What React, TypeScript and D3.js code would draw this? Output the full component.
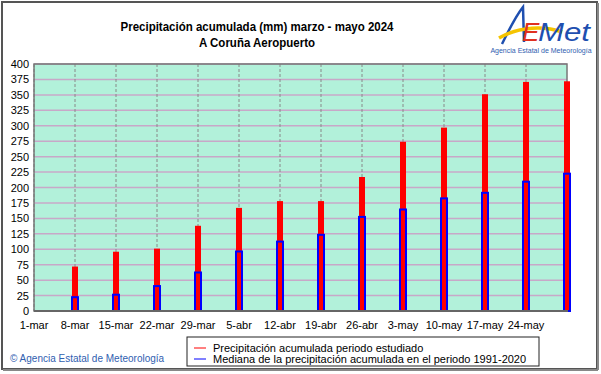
import React from 'react';
import * as d3 from 'd3';

// fechas de las barras (semanal) y valores
const barDates = ['2024-03-08','2024-03-15','2024-03-22','2024-03-29','2024-04-05','2024-04-12','2024-04-19','2024-04-26','2024-05-03','2024-05-10','2024-05-17','2024-05-24','2024-05-31'];
const precipAcum = [72, 96, 101, 138, 167, 178, 178, 217, 274, 297, 351, 371, 372];
const medianaAcum = [24, 28, 42, 64, 98, 114, 125, 154, 166, 184, 193, 211, 224];
const tickDates = ['2024-03-01','2024-03-08','2024-03-15','2024-03-22','2024-03-29','2024-04-05','2024-04-12','2024-04-19','2024-04-26','2024-05-03','2024-05-10','2024-05-17','2024-05-24'];
const tickLabels = ['1-mar','8-mar','15-mar','22-mar','29-mar','5-abr','12-abr','19-abr','26-abr','3-may','10-may','17-may','24-may'];
const yTicks = d3.range(0, 401, 25);

const font = 'Liberation Sans, Arial, sans-serif';

const App = () => {
  const w = 601, h = 374;
  const left = 34, right = 567, top = 64, bottom = 311;

  const x = d3.scaleTime()
    .domain([new Date('2024-03-01'), new Date('2024-05-31')])
    .range([left, right]);
  const y = d3.scaleLinear().domain([0, 400]).range([bottom, top]);

  const redW = 6, blueW = 8;

  return (
    <svg width={w} height={h} style={{position: 'absolute', left: 0, top: 0, background: '#fff'}} fontFamily={font}>
      {/* marco exterior */}
      <rect x={2} y={2} width={595} height={367} fill="#fff" stroke="#555" strokeWidth={2} />
      <line x1={3} y1={370} x2={598} y2={370} stroke="#888" strokeWidth={2} />
      <line x1={598} y1={3} x2={598} y2={370} stroke="#888" strokeWidth={2} />

      {/* titulo */}
      <text x={257} y={31} textAnchor="middle" fontSize={12.5} fontWeight="bold" textLength={273} lengthAdjust="spacingAndGlyphs">Precipitación acumulada (mm) marzo - mayo 2024</text>
      <text x={257} y={47} textAnchor="middle" fontSize={12.5} fontWeight="bold" textLength={116} lengthAdjust="spacingAndGlyphs">A Coruña Aeropuerto</text>

      {/* logo AEMet */}
      <g>
        <path d="M502,44 C509,30 515,17 523,7 L524,42" fill="none" stroke="#1f4fb0" strokeWidth={2.5} />
        <path d="M499,38 C520,26 545,26 562,32" fill="none" stroke="#f5c400" strokeWidth={3.5} />
        <text x={522} y={41} fontSize={26} fill="#e03020" fontStyle="italic">E</text>
        <text x={538} y={41} fontSize={26} fill="#1f4fb0" fontStyle="italic" textLength={52} lengthAdjust="spacingAndGlyphs">Met</text>
        <text x={541} y={53} fontSize={7} fill="#3060b0" textAnchor="middle">Agencia Estatal de Meteorología</text>
      </g>

      {/* area del grafico */}
      <rect x={left} y={top} width={right - left} height={bottom - top} fill="#b2f1da" />
      {yTicks.map(t => (
        <line key={'h' + t} x1={left} x2={right} y1={y(t)} y2={y(t)} stroke="#c8a8c8" strokeWidth={1.5} />
      ))}
      {tickDates.map(d => (
        <line key={'v' + d} x1={x(new Date(d))} x2={x(new Date(d))} y1={top} y2={bottom} stroke="#888" strokeDasharray="3,2" />
      ))}
      <rect x={left} y={top} width={right - left} height={bottom - top} fill="none" stroke="#777" strokeWidth={1.5} />

      {/* barras */}
      {barDates.map((d, i) => (
        <rect key={'r' + d} x={x(new Date(d)) - redW / 2} y={y(precipAcum[i])} width={redW} height={bottom - y(precipAcum[i])} fill="#ff0000" />
      ))}
      {barDates.map((d, i) => (
        <rect key={'b' + d} x={x(new Date(d)) - blueW / 2 + 1} y={y(medianaAcum[i]) + 1} width={blueW - 2} height={bottom - y(medianaAcum[i]) - 1} fill="none" stroke="#0000ff" strokeWidth={2} />
      ))}
      <line x1={left} x2={right + 1} y1={bottom} y2={bottom} stroke="#666" strokeWidth={2} />

      {/* eje y */}
      {yTicks.map(t => (
        <text key={'yl' + t} x={29} y={y(t) + 4} textAnchor="end" fontSize={11}>{t}</text>
      ))}
      {/* eje x */}
      {tickDates.map((d, i) => (
        <text key={'xl' + d} x={x(new Date(d))} y={329} textAnchor="middle" fontSize={11}>{tickLabels[i]}</text>
      ))}

      {/* leyenda */}
      <rect x={187} y={337} width={352} height={29} fill="#fff" stroke="#222" strokeWidth={1} />
      <line x1={194} x2={206} y1={348} y2={348} stroke="#ff0000" strokeWidth={1} />
      <line x1={194} x2={206} y1={359} y2={359} stroke="#0000ff" strokeWidth={1} />
      <text x={213} y={352} fontSize={11}>Precipitación acumulada periodo estudiado</text>
      <text x={213} y={363} fontSize={11}>Mediana de la precipitación acumulada en el periodo 1991-2020</text>

      {/* copyright */}
      <text x={10} y={362} fontSize={10} fill="#3060b0">© Agencia Estatal de Meteorología</text>
    </svg>
  );
};

export default App;
